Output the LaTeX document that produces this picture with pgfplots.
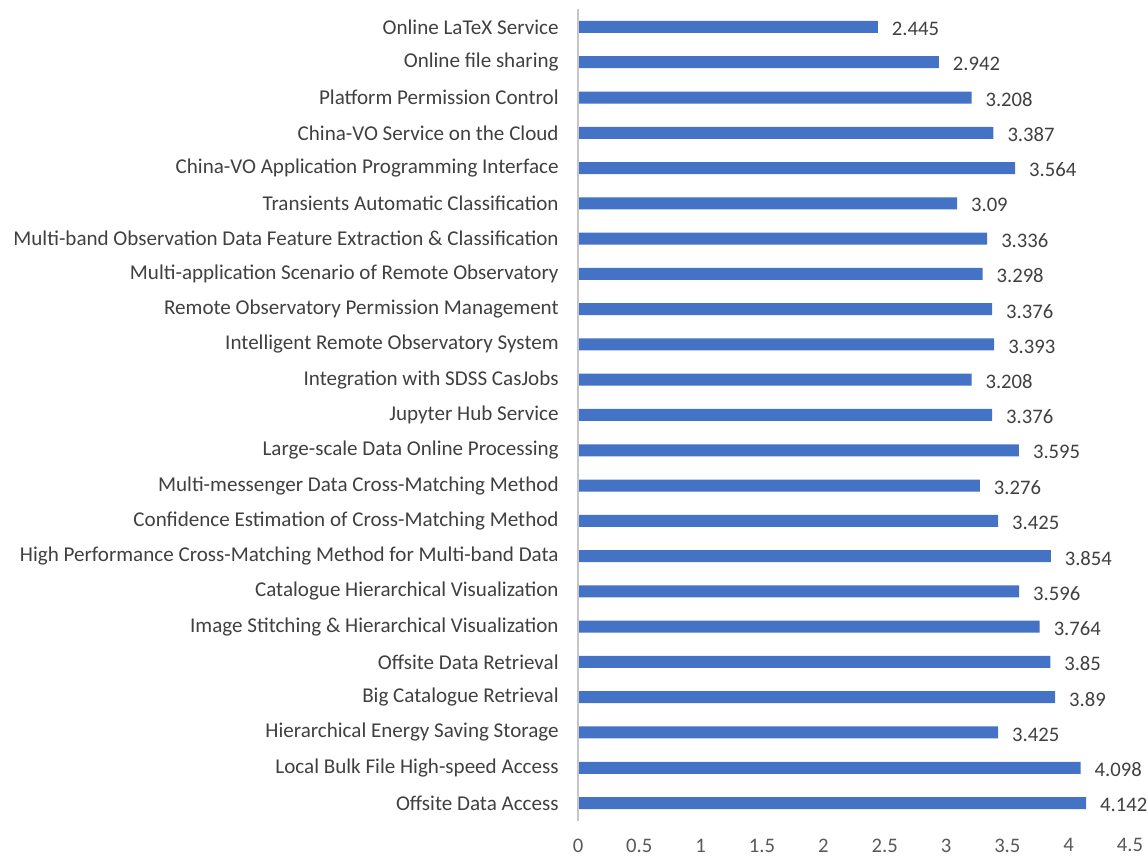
\documentclass[border=0pt]{standalone}
\usepackage{pgfplots}
\pgfplotsset{compat=1.18}
\usepackage{fontspec}
\setmainfont{Carlito}
\definecolor{barblue}{HTML}{4472C4}
\definecolor{txt}{HTML}{404040}
\definecolor{ticktxt}{HTML}{595959}
\begin{document}
\begin{tikzpicture}
\begin{axis}[
  scale only axis,
  width=414pt, height=608.5pt,
  xbar, bar width=9pt,
  xmin=0, xmax=4.5,
  ymin=-0.5, ymax=22.5,
  xtick={0,0.5,...,4.5},
  ytick={0,...,22},
  yticklabels={Offsite Data Access,Local Bulk File High-speed Access,Hierarchical Energy Saving Storage,Big Catalogue Retrieval,Offsite Data Retrieval,Image Stitching \& Hierarchical Visualization,Catalogue Hierarchical Visualization,High Performance Cross-Matching Method for Multi-band Data,Confidence Estimation of Cross-Matching Method,Multi-messenger Data Cross-Matching Method,Large-scale Data Online Processing,Jupyter Hub Service,Integration with SDSS CasJobs,Intelligent Remote Observatory System,Remote Observatory Permission Management,Multi-application Scenario of Remote Observatory,Multi-band Observation Data Feature Extraction \& Classification,Transients Automatic Classification,China-VO Application Programming Interface,China-VO Service on the Cloud,Platform Permission Control,Online file sharing,Online LaTeX Service},
  major tick length=0pt,
  axis line style={draw=none},
  /pgf/number format/assume math mode=true,
  tick label style={font=\fontsize{15.5}{18}\selectfont},
  yticklabel style={text=txt, xshift=-11pt, font=\fontsize{15.8}{18}\selectfont},
  xticklabel style={text=ticktxt, anchor=north, yshift=-10pt},
  nodes near coords={\pgfmathprintnumber[precision=3]{\pgfplotspointmeta}},
  every node near coord/.append style={font=\fontsize{15.5}{18}\selectfont, text=txt, anchor=west, xshift=7pt, yshift=-1.5pt},
  clip=false,
]
\addplot[fill=barblue, draw=none] coordinates {
(4.142,0) (4.098,1) (3.425,2) (3.89,3) (3.85,4) (3.764,5) (3.596,6) (3.854,7) (3.425,8) (3.276,9) (3.595,10) (3.376,11) (3.208,12) (3.393,13) (3.376,14) (3.298,15) (3.336,16) (3.09,17) (3.564,18) (3.387,19) (3.208,20) (2.942,21) (2.445,22)
};
\draw[gray!45, line width=0.8pt] (rel axis cs:0,0) -- (rel axis cs:0,1);
\end{axis}
\pgfresetboundingbox
\path[use as bounding box] ([xshift=-433.5pt,yshift=-28.5pt]current axis.south west) rectangle ([xshift=13.5pt,yshift=7pt]current axis.north east);
\end{tikzpicture}
\end{document}
